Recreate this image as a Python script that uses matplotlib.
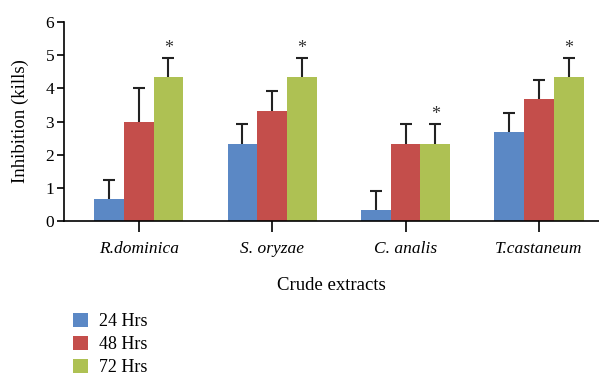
import numpy as np
import matplotlib
matplotlib.use("Agg")
import matplotlib.pyplot as plt
from matplotlib.patches import Patch

plt.rcParams["font.family"] = ["Liberation Serif", "DejaVu Serif"]

categories = ["R.dominica", "S. oryzae", "C. analis", "T.castaneum"]
series_names = ["24 Hrs", "48 Hrs", "72 Hrs"]
colors = ["#5B88C5", "#C44E4B", "#AEC153"]

hrs24 = [0.67, 2.33, 0.33, 2.67]
hrs48 = [3.0, 3.33, 2.33, 3.67]
hrs72 = [4.33, 4.33, 2.33, 4.33]
err24 = [0.58, 0.58, 0.58, 0.58]
err48 = [1.0, 0.58, 0.58, 0.58]
err72 = [0.58, 0.58, 0.58, 0.58]
significant = [True, True, True, True]  # asterisk over 72 Hrs bar

values = [hrs24, hrs48, hrs72]
errors = [err24, err48, err72]

fig = plt.figure(figsize=(5.99, 3.76), dpi=100)
ax = fig.add_axes([64 / 599, 1 - 221 / 376, 535 / 599, 199 / 376])

x = np.arange(len(categories))
w = 0.223
for i, (vals, errs) in enumerate(zip(values, errors)):
    pos = x + (i - 1) * w
    ax.bar(pos, vals, width=w, color=colors[i], zorder=2)
    _, caps, _ = ax.errorbar(pos, vals, yerr=[np.zeros(len(errs)), errs], fmt="none",
                             ecolor="#222222", elinewidth=1.5, capsize=4.5,
                             capthick=1.5, zorder=3)
    caps[0].set_visible(False)  # upper whisker only

# significance markers
for xi, v, e, s in zip(x + w, hrs72, err72, significant):
    if s:
        ax.text(xi, v + e + 0.3, "*", ha="center", va="center", fontsize=13, color="#333333")

ax.set_xlim(-0.56, 3.45)
ax.set_ylim(0, 6)
ax.set_yticks(range(7))
ax.set_xticks(x)
ax.set_xticklabels(categories, fontstyle="italic", fontsize=12.5)
ax.tick_params(axis="y", labelsize=12.5, length=5, width=1.2, pad=2)
ax.tick_params(axis="x", length=8, width=1.2, pad=6.5)
for side in ["top", "right"]:
    ax.spines[side].set_visible(False)
for side in ["left", "bottom"]:
    ax.spines[side].set_linewidth(1.2)

ax.set_ylabel("Inhibition (kills)", fontsize=13.5, labelpad=12)
ax.set_xlabel("Crude extracts", fontsize=13.5, labelpad=14)

handles = [Patch(facecolor=c, label=n) for c, n in zip(colors, series_names)]
fig.legend(handles=handles, loc="upper left", bbox_to_anchor=(73 / 599, 1 - 313 / 376),
           frameon=False, fontsize=13, handlelength=0.85, handleheight=0.85,
           handletextpad=0.6, labelspacing=0.3, borderpad=0, borderaxespad=0)

fig.savefig("out.png", dpi=100)
